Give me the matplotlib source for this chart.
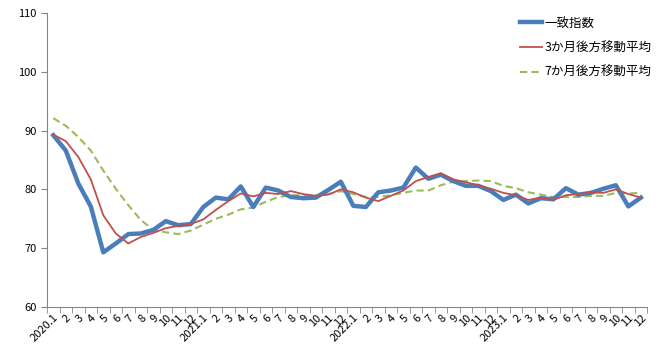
import numpy as np
import matplotlib.pyplot as plt

plt.rcParams['font.family'] = ['Noto Sans CJK JP', 'DejaVu Sans']

months = ['2020.1', '2', '3', '4', '5', '6', '7', '8', '9', '10', '11', '12',
          '2021.1', '2', '3', '4', '5', '6', '7', '8', '9', '10', '11', '12',
          '2022.1', '2', '3', '4', '5', '6', '7', '8', '9', '10', '11', '12',
          '2023.1', '2', '3', '4', '5', '6', '7', '8', '9', '10', '11', '12']

coincident = [89.2, 86.6, 81.0, 77.1, 69.3, 70.8, 72.4, 72.5, 73.1, 74.6, 73.9, 74.1,
              77.0, 78.6, 78.3, 80.5, 77.0, 80.3, 79.8, 78.7, 78.5, 78.6, 79.9, 81.3,
              77.2, 77.0, 79.5, 79.8, 80.3, 83.7, 81.8, 82.5, 81.4, 80.6, 80.6, 79.7,
              78.2, 79.1, 77.6, 78.5, 78.3, 80.2, 79.1, 79.4, 80.1, 80.7, 77.1, 78.6]

ma3 = [89.3, 88.2, 85.5, 81.7, 75.6, 72.5, 70.8, 71.9, 72.6, 73.4, 73.8, 74.1,
       74.9, 76.5, 78.0, 79.3, 78.8, 79.4, 79.2, 79.7, 79.2, 78.9, 79.1, 80.0,
       79.5, 78.6, 78.0, 78.9, 79.8, 81.4, 82.1, 82.7, 81.7, 81.2, 80.7, 80.1,
       79.4, 79.0, 78.2, 78.6, 78.2, 79.0, 79.2, 79.5, 79.4, 80.0, 79.2, 78.6]

ma7 = [92.1, 90.8, 88.9, 86.6, 83.2, 80.1, 77.3, 74.8, 73.1, 72.7, 72.4, 73.0,
       74.0, 75.0, 75.7, 76.6, 76.9, 77.9, 78.7, 79.0, 79.0, 79.0, 79.2, 79.7,
       79.2, 78.7, 78.7, 79.0, 79.4, 79.8, 79.8, 80.7, 81.3, 81.4, 81.5, 81.4,
       80.6, 80.2, 79.5, 79.1, 78.7, 78.7, 78.7, 78.9, 78.9, 79.4, 79.3, 79.4]

x = np.arange(len(months))

fig = plt.figure(figsize=(6.69, 3.57), dpi=100)
ax = fig.add_axes([0.0703, 0.14, 0.897, 0.824])

ax.plot(x, coincident, color='#4A7EBB', lw=3.2, label='一致指数', zorder=3)
ax.plot(x, ma3, color='#C0504D', lw=1.3, label='3か月後方移動平均', zorder=4)
ax.plot(x, ma7, color='#9BBB59', lw=1.5, ls=(0, (3.5, 2)), label='7か月後方移動平均', zorder=2)

ax.set_xlim(-0.5, len(months) - 0.5)
ax.set_ylim(60, 110)
ax.set_yticks(range(60, 111, 10))

ax.set_xticks(x)
ax.set_xticklabels(months, rotation=45, ha='right', rotation_mode='anchor', fontsize=8)
ax.tick_params(axis='x', which='major', length=0, pad=4)
ax.set_xticks(np.arange(-0.5, len(months), 1), minor=True)
ax.tick_params(axis='x', which='minor', length=4, color='#868686')
ax.tick_params(axis='y', length=4, color='#868686', labelsize=8)

for side in ['top', 'right']:
    ax.spines[side].set_visible(False)
for side in ['left', 'bottom']:
    ax.spines[side].set_color('#868686')

ax.legend(loc='upper left', bbox_to_anchor=(0.76, 0.985), bbox_transform=fig.transFigure,
          frameon=False, fontsize=9, handlelength=1.8, handletextpad=0.2, labelspacing=0.95)

fig.savefig('out.png', dpi=100)
